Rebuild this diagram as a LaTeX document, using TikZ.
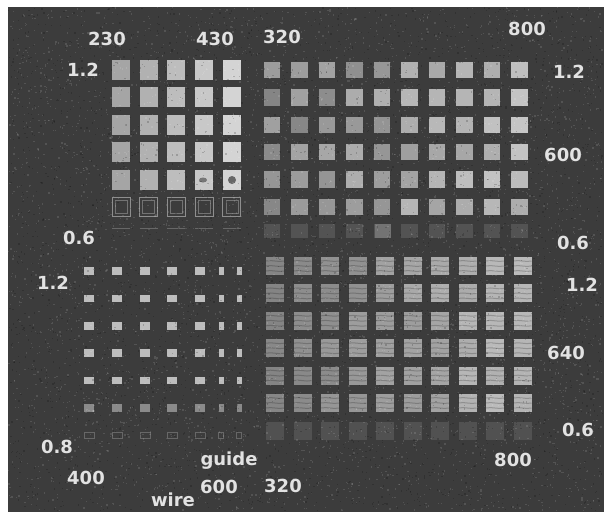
\documentclass[tikz,border=0pt]{standalone}
\usepackage{fontspec}
\setmainfont{DejaVu Sans}
\definecolor{bg}{RGB}{60,60,60}
\definecolor{lbl}{RGB}{226,226,226}
\tikzset{
  chiplabel/.style={text=lbl,font=\bfseries\fontsize{18}{18}\selectfont,inner sep=0pt},
  pad/.style={fill=white!#1!bg,draw=none},
  ghost/.style={draw=white!22!bg,line width=0.6pt},
}
\begin{document}
\begin{tikzpicture}[x=1pt,y=-1pt]
\useasboundingbox (0,0) rectangle (604,512);
\fill[white] (0,0) rectangle (604,512);
\fill[bg] (8,7) rectangle (604,512);
\pgfmathsetseed{4711}
% top left array, 230 -- 430
\foreach \i in {0,...,4} {
  \pgfmathsetmacro\x{121+27.7*\i}
  \pgfmathsetmacro\v{54+6*\i}
  \foreach \j in {0,...,4} {
    \pgfmathsetmacro\y{70+27.4*\j}
    \fill[pad=\v] (\x-9,\y-10) rectangle (\x+9,\y+10);
  }
  \draw[draw=white!42!bg,line width=0.8pt] (\x-9,197.5) rectangle (\x+9,216.5);
  \draw[draw=white!28!bg,line width=0.6pt] (\x-6,200.5) rectangle (\x+6,213.5);
  \draw[ghost] (\x-9,228) -- (\x+9,228);
}
\fill[pad=30] (203,180) ellipse (4 and 2.5);
\fill[pad=22] (232,180) circle (4);
% top right array, 320 -- 800
\foreach \i in {0,...,9} {
  \pgfmathsetmacro\x{272+27.5*\i}
  \foreach \j in {0,...,5} {
    \pgfmathsetmacro\y{70+27.4*\j}
    \pgfmathsetmacro\v{36+2.2*\i+16*rnd}
    \fill[pad=\v] (\x-8.2,\y-8.2) rectangle (\x+8.2,\y+8.2);
  }
  \fill[pad=12] (\x-8.2,224) rectangle (\x+8.2,238);
}
\fill[pad=28] (375,224) rectangle (391,238);
% bottom left array, 400 -- 600 wire
\foreach \x/\w in {89/4.8,117/5,145/5,172/5,200/5,221/2.5,239/2.5} {
  \foreach \j in {0,...,4} {
    \pgfmathsetmacro\y{271+27.4*\j}
    \fill[pad=66] (\x-\w,\y-3.8) rectangle (\x+\w,\y+3.8);
  }
  \fill[pad=40] (\x-\w,404) rectangle (\x+\w,412);
  \draw[ghost] (\x-\w,432) rectangle (\x+\w,438);
}
% bottom right array, 320 -- 800
\foreach \i in {0,...,9} {
  \pgfmathsetmacro\x{275+27.5*\i}
  \foreach \j in {0,...,5} {
    \pgfmathsetmacro\y{266+27.4*\j}
    \pgfmathsetmacro\v{34+3*\i+8*rnd}
    \fill[pad=\v] (\x-9,\y-9) rectangle (\x+9,\y+9);
    \foreach \s in {-5,0,5}
      \draw[black,opacity=0.2,line width=1pt] (\x-9,\y+\s) .. controls (\x-3,\y+\s-1.5) and (\x+3,\y+\s+1.5) .. (\x+9,\y+\s);
  }
  \fill[pad=11] (\x-9,422) rectangle (\x+9,440);
}
% grain
\foreach \k in {1,...,5000} {
  \pgfmathsetmacro\nx{8+594*rnd}
  \pgfmathsetmacro\ny{7+503*rnd}
  \fill[white,opacity=0.12] (\nx,\ny) rectangle ++(1.3,1.3);
}
\foreach \k in {1,...,3500} {
  \pgfmathsetmacro\nx{8+594*rnd}
  \pgfmathsetmacro\ny{7+503*rnd}
  \fill[black,opacity=0.18] (\nx,\ny) rectangle ++(1.3,1.3);
}
% labels
\node[chiplabel] (tl230) at (107,39) {230};
\node[chiplabel] (tl430) at (215,39) {430};
\node[chiplabel] (tr320) at (282,37) {320};
\node[chiplabel] (tr800) at (527,29) {800};
\node[chiplabel] (tlmax) at (83,70) {1.2};
\node[chiplabel] (tlmin) at (79,238) {0.6};
\node[chiplabel] (trmax) at (569,72) {1.2};
\node[chiplabel] (tr600) at (563,155) {600};
\node[chiplabel] (trmin) at (573,243) {0.6};
\node[chiplabel] (blmax) at (53,283) {1.2};
\node[chiplabel] (blmin) at (57,447) {0.8};
\node[chiplabel] (bl400) at (86,478) {400};
\node[chiplabel] (guide) at (229,461) {guide};
\node[chiplabel] (bl600) at (219,487) {600};
\node[chiplabel] (br320) at (283,486) {320};
\node[chiplabel] (wire) at (173,500) {wire};
\node[chiplabel] (brmax) at (582,285) {1.2};
\node[chiplabel] (br640) at (566,353) {640};
\node[chiplabel] (brmin) at (578,430) {0.6};
\node[chiplabel] (br800) at (513,460) {800};
\end{tikzpicture}
\end{document}
